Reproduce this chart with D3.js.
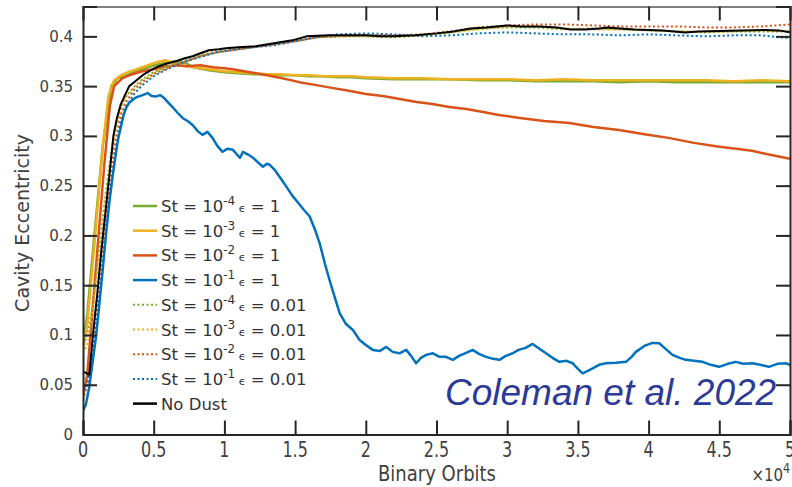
<!DOCTYPE html>
<html>
<head>
<meta charset="utf-8">
<script src="https://cdn.jsdelivr.net/npm/d3@7"></script>
<style>
  body { margin: 0; background: #fff; }
  text { font-family: "DejaVu Sans", sans-serif; }
</style>
</head>
<body>
<svg id="chart" width="792" height="487"></svg>
<script>
// [orbit, eccentricity] pairs
const green1 = [[0,0.093],[300,0.12],[800,0.2],[1400,0.29],[2000,0.35],[2450,0.358],[3000,0.36],[3600,0.364],[4200,0.367],[4800,0.37],[5400,0.372],[6000,0.374],[6600,0.375],[7300,0.373],[7800,0.369],[8900,0.366],[10000,0.364],[11000,0.363],[12000,0.362],[13000,0.362],[14000,0.361],[15000,0.361],[16000,0.36],[17000,0.36],[18000,0.359],[19000,0.359],[20000,0.358],[22000,0.357],[24000,0.357],[26000,0.357],[28000,0.356],[30000,0.356],[32000,0.355],[34000,0.355],[36000,0.355],[38000,0.354],[40000,0.355],[42000,0.354],[44000,0.354],[46000,0.354],[48000,0.354],[50000,0.354]];
const yellow1 = [[0,0.085],[300,0.11],[800,0.19],[1400,0.29],[1800,0.34],[2200,0.356],[2700,0.361],[3200,0.364],[3800,0.367],[4400,0.37],[5000,0.373],[5500,0.375],[5800,0.376],[6300,0.374],[7000,0.371],[7800,0.369],[8900,0.367],[10000,0.365],[11000,0.364],[12000,0.363],[13000,0.362],[14000,0.362],[15000,0.361],[16000,0.361],[17000,0.36],[18000,0.36],[19000,0.36],[20000,0.359],[22000,0.358],[24000,0.358],[26000,0.357],[28000,0.357],[30000,0.357],[32000,0.356],[34000,0.357],[36000,0.356],[38000,0.356],[40000,0.356],[42000,0.356],[44000,0.356],[46000,0.355],[48000,0.356],[50000,0.355]];
const orange1 = [[0,0.038],[300,0.06],[700,0.13],[1100,0.2],[1500,0.27],[1900,0.33],[2200,0.35],[2800,0.358],[3500,0.362],[4200,0.365],[5000,0.367],[5900,0.37],[6600,0.371],[7300,0.37],[8300,0.371],[9200,0.369],[10000,0.368],[10600,0.367],[11800,0.364],[13000,0.361],[14100,0.358],[15300,0.354],[16500,0.351],[17700,0.348],[18900,0.345],[20000,0.342],[21200,0.34],[22400,0.337],[23600,0.334],[24700,0.332],[25900,0.329],[27100,0.327],[28300,0.324],[29400,0.321],[30900,0.318],[32600,0.315],[34400,0.313],[36100,0.309],[37900,0.306],[39600,0.302],[41400,0.298],[43200,0.293],[45000,0.289],[46200,0.287],[47300,0.285],[48600,0.281],[50000,0.277]];
const blue1 = [[0,0.024],[200,0.03],[445,0.048],[700,0.075],[920,0.098],[1150,0.13],[1390,0.165],[1620,0.2],[1860,0.233],[2100,0.26],[2330,0.283],[2500,0.298],[2680,0.309],[2850,0.32],[3040,0.328],[3250,0.333],[3500,0.336],[3800,0.339],[4220,0.341],[4570,0.343],[4850,0.34],[5150,0.3395],[5450,0.341],[5740,0.338],[6000,0.334],[6330,0.329],[6700,0.323],[7040,0.318],[7400,0.315],[7750,0.311],[8100,0.305],[8450,0.301],[8800,0.304],[9160,0.298],[9500,0.29],[9870,0.284],[10200,0.287],[10600,0.286],[11090,0.278],[11320,0.284],[11700,0.281],[12030,0.278],[12400,0.273],[12730,0.269],[13000,0.272],[13200,0.271],[13600,0.265],[14000,0.257],[14380,0.249],[14800,0.24],[15200,0.233],[15600,0.226],[16030,0.219],[16400,0.206],[16740,0.192],[17100,0.172],[17440,0.155],[17800,0.138],[18150,0.122],[18600,0.111],[19090,0.105],[19560,0.095],[20000,0.09],[20500,0.085],[21000,0.084],[21450,0.088],[21900,0.083],[22390,0.0816],[22860,0.085],[23200,0.079],[23560,0.0716],[23900,0.077],[24270,0.08],[24740,0.0816],[25210,0.078],[25680,0.078],[26150,0.075],[26600,0.079],[27100,0.082],[27560,0.085],[28000,0.081],[28510,0.078],[29000,0.076],[29450,0.075],[29900,0.079],[30390,0.0816],[30800,0.085],[31300,0.087],[31800,0.091],[32300,0.086],[32750,0.0816],[33200,0.077],[33690,0.073],[34200,0.074],[34620,0.0716],[35000,0.066],[35330,0.0615],[35700,0.064],[36040,0.0665],[36500,0.07],[36980,0.0716],[37700,0.072],[38400,0.073],[38800,0.078],[39100,0.083],[39700,0.089],[40280,0.092],[40750,0.0917],[41200,0.086],[41690,0.08],[42200,0.077],[42630,0.075],[43200,0.074],[43810,0.073],[44400,0.07],[44980,0.068],[45600,0.071],[46160,0.073],[46700,0.071],[47340,0.0716],[47900,0.07],[48520,0.068],[49100,0.071],[49700,0.0716],[50000,0.07]];
const green2 = [[0,0.09],[300,0.1],[700,0.13],[1100,0.18],[1500,0.23],[1900,0.275],[2300,0.31],[2700,0.33],[3100,0.341],[3600,0.349],[4200,0.357],[5000,0.364],[5800,0.369],[6600,0.373],[7500,0.377],[8500,0.382],[9500,0.385],[10500,0.387],[12000,0.389],[13500,0.392],[15000,0.396],[16500,0.399],[18000,0.4],[20000,0.4],[22000,0.399],[24000,0.401],[26000,0.404],[28000,0.408],[30000,0.409],[32000,0.409],[34000,0.407],[36000,0.408],[38000,0.407],[40000,0.406],[42000,0.405],[44000,0.404],[46000,0.405],[48000,0.405],[50000,0.405]];
const yellow2 = [[0,0.082],[300,0.09],[700,0.125],[1100,0.175],[1500,0.225],[1900,0.27],[2300,0.305],[2700,0.327],[3100,0.34],[3600,0.348],[4200,0.356],[5000,0.363],[5800,0.368],[6600,0.372],[7500,0.376],[8500,0.381],[9500,0.384],[10500,0.386],[12000,0.389],[13500,0.392],[15000,0.395],[16500,0.399],[18000,0.4],[20000,0.4],[22000,0.4],[24000,0.401],[26000,0.404],[28000,0.407],[30000,0.41],[32000,0.41],[34000,0.408],[36000,0.407],[38000,0.407],[40000,0.406],[42000,0.405],[44000,0.405],[46000,0.405],[48000,0.406],[50000,0.405]];
const orange2 = [[0,0.035],[300,0.05],[700,0.09],[1100,0.145],[1500,0.2],[1900,0.255],[2300,0.295],[2700,0.322],[3100,0.335],[3600,0.346],[4200,0.354],[5000,0.362],[5800,0.367],[6600,0.372],[7500,0.376],[8500,0.381],[9500,0.384],[10500,0.386],[12000,0.389],[13500,0.392],[15000,0.395],[16500,0.399],[18000,0.4],[20000,0.401],[22000,0.401],[24000,0.402],[26000,0.405],[28000,0.409],[30000,0.411],[32000,0.412],[34000,0.412],[36000,0.411],[38000,0.41],[40000,0.41],[42000,0.41],[44000,0.409],[46000,0.409],[48000,0.41],[50000,0.412]];
const blue2 = [[0,0.045],[300,0.05],[700,0.08],[1100,0.13],[1500,0.185],[1900,0.24],[2300,0.285],[2700,0.315],[3100,0.33],[3600,0.342],[4200,0.351],[5000,0.36],[5800,0.366],[6600,0.371],[7500,0.376],[8500,0.38],[9500,0.384],[10500,0.386],[12000,0.389],[13500,0.391],[15000,0.395],[16500,0.399],[18000,0.402],[20000,0.403],[22000,0.402],[24000,0.4],[26000,0.401],[28000,0.403],[30000,0.404],[32000,0.403],[34000,0.402],[36000,0.402],[38000,0.401],[40000,0.402],[42000,0.401],[44000,0.4],[46000,0.401],[48000,0.401],[50000,0.398]];
const noDust = [[0,0.063],[200,0.062],[450,0.06],[700,0.1],[1000,0.14],[1300,0.185],[1600,0.225],[1900,0.265],[2150,0.3],[2400,0.318],[2680,0.332],[3000,0.342],[3270,0.35],[3700,0.355],[4215,0.361],[4800,0.366],[5370,0.37],[6000,0.373],[6570,0.375],[7200,0.378],[7750,0.38],[8300,0.383],[8900,0.386],[9600,0.387],[10100,0.388],[11000,0.389],[12200,0.39],[13500,0.393],[14800,0.396],[15800,0.4],[17400,0.401],[18700,0.401],[20000,0.401],[21000,0.4],[22000,0.4],[23500,0.401],[25000,0.403],[26200,0.405],[27400,0.408],[28500,0.409],[30000,0.411],[31000,0.41],[32300,0.41],[33500,0.409],[34500,0.407],[35500,0.407],[36500,0.408],[37100,0.409],[38000,0.408],[39000,0.407],[40000,0.4065],[41000,0.406],[42600,0.404],[43500,0.405],[45000,0.4055],[46500,0.406],[48200,0.4065],[49200,0.406],[50000,0.404]];

const stokesExp = ["-4", "-3", "-2", "-1", "-4", "-3", "-2", "-1"];
const epsLabels = ["1", "1", "1", "1", "0.01", "0.01", "0.01", "0.01"];
const xTicks = [0, 5000, 10000, 15000, 20000, 25000, 30000, 35000, 40000, 45000, 50000];
const xTickLabels = ["0", "0.5", "1", "1.5", "2", "2.5", "3", "3.5", "4", "4.5", "5"];
const yTicks = [0, 0.05, 0.1, 0.15, 0.2, 0.25, 0.3, 0.35, 0.4];
const yTickLabels = ["0", "0.05", "0.1", "0.15", "0.2", "0.25", "0.3", "0.35", "0.4"];

const cGreen = "#77ac30", cYellow = "#edb120", cOrange = "#d95319", cBlue = "#0072bd";

const series = [
  { data: green1, color: cGreen, dotted: false },
  { data: yellow1, color: cYellow, dotted: false },
  { data: orange1, color: cOrange, dotted: false },
  { data: blue1, color: cBlue, dotted: false },
  { data: green2, color: cGreen, dotted: true },
  { data: yellow2, color: cYellow, dotted: true },
  { data: orange2, color: cOrange, dotted: true },
  { data: blue2, color: cBlue, dotted: true },
  { data: noDust, color: "#000", dotted: false, black: true }
];

const svg = d3.select("#chart");
const mLeft = 83, mRight = 790, mTop = 6.5, mBottom = 434.5;

const x = d3.scaleLinear().domain([0, 50000]).range([mLeft, mRight]);
const y = d3.scaleLinear().domain([0, 0.43]).range([mBottom, mTop]);

const axisColor = "#262626";
const labelColor = "#404040";

svg.append("clipPath").attr("id", "clip")
  .append("rect").attr("x", mLeft).attr("y", mTop).attr("width", mRight - mLeft).attr("height", mBottom - mTop);

// lines
const line = d3.line().x(d => x(d[0])).y(d => y(d[1]));
const g = svg.append("g").attr("clip-path", "url(#clip)");
series.forEach(s => {
  g.append("path")
    .attr("d", line(s.data))
    .attr("fill", "none")
    .attr("stroke", s.color)
    .attr("stroke-width", s.black ? 2 : (s.dotted ? 2 : 2.5))
    .attr("stroke-dasharray", s.dotted ? "2,2.5" : null)
    .attr("stroke-linejoin", "round");
});

// axes (inward ticks, box)
const tickLen = 14;
const axB = svg.append("g").attr("transform", `translate(0,${mBottom})`)
  .call(d3.axisBottom(x).tickValues(xTicks).tickSize(-tickLen).tickFormat(""));
const axT = svg.append("g").attr("transform", `translate(0,${mTop})`)
  .call(d3.axisTop(x).tickValues(xTicks).tickSize(-tickLen).tickFormat(""));
const axL = svg.append("g").attr("transform", `translate(${mLeft},0)`)
  .call(d3.axisLeft(y).tickValues(yTicks).tickSize(-tickLen).tickFormat(""));
const axR = svg.append("g").attr("transform", `translate(${mRight},0)`)
  .call(d3.axisRight(y).tickValues(yTicks).tickSize(-tickLen).tickFormat(""));
[axB, axT, axL, axR].forEach(a => {
  a.selectAll("path,line").attr("stroke", axisColor).attr("stroke-width", 2);
});
axT.selectAll("path").attr("stroke", "#555").attr("stroke-width", 1.5);

// tick labels
svg.append("g").selectAll("text").data(yTicks).join("text")
  .attr("x", mLeft - 10).attr("y", d => y(d)).attr("dy", "0.36em")
  .attr("text-anchor", "end").attr("font-size", 15).attr("fill", labelColor)
  .text((d, i) => yTickLabels[i]);

svg.append("g").selectAll("text").data(xTicks).join("text")
  .attr("transform", d => `translate(${x(d)},457) scale(1,1.3)`)
  .attr("text-anchor", "middle").attr("font-size", 16).attr("fill", labelColor)
  .text((d, i) => xTickLabels[i]);

// exponent
const ex = svg.append("text").attr("transform", "translate(790,481) scale(1,1.2)")
  .attr("text-anchor", "end").attr("font-size", 15).attr("fill", labelColor);
ex.append("tspan").text("\u00d710");
ex.append("tspan").attr("dy", -7).attr("font-size", 11).text("4");

// axis titles
svg.append("text").attr("transform", "translate(437,481) scale(1,1.2)")
  .attr("text-anchor", "middle").attr("font-size", 18).attr("fill", labelColor)
  .text("Binary Orbits");
svg.append("text").attr("transform", "translate(29,223) rotate(-90)")
  .attr("text-anchor", "middle").attr("font-size", 19).attr("fill", labelColor)
  .text("Cavity Eccentricity");

// legend
const legend = svg.append("g");
const rowY = i => 206 + i * 24.7;
series.forEach((s, i) => {
  const ly = rowY(i);
  legend.append("line")
    .attr("x1", 133).attr("x2", 157).attr("y1", ly).attr("y2", ly)
    .attr("stroke", s.color).attr("stroke-width", s.dotted ? 2 : 2.5)
    .attr("stroke-dasharray", s.dotted ? "2,2.5" : null);
  const t = legend.append("text").attr("x", 161).attr("y", ly + 6)
    .attr("font-size", 16.5).attr("fill", "#333");
  if (s.black) {
    t.text("No Dust");
  } else {
    t.append("tspan").text("St = 10");
    t.append("tspan").attr("dy", -7).attr("font-size", 12).text(stokesExp[i]);
    t.append("tspan").attr("dy", 7).attr("font-size", 11).text(" \u03f5");
    t.append("tspan").text(" = " + epsLabels[i]);
  }
});

// citation
svg.append("text").attr("x", 445).attr("y", 405)
  .style("font-family", "'Liberation Sans', Arial, sans-serif")
  .style("font-style", "italic").attr("font-size", 37).attr("fill", "#2b3a97")
  .text("Coleman et al. 2022");
</script>
</body>
</html>
